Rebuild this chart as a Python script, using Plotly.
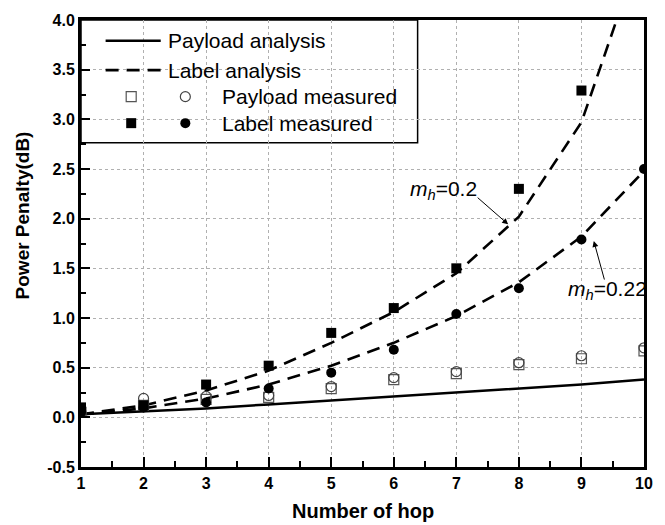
import plotly.graph_objects as go

# ---------------- data ----------------
hops = [1, 2, 3, 4, 5, 6, 7, 8, 9, 10]

payload_analysis = [0.03, 0.06, 0.09, 0.13, 0.17, 0.21, 0.25, 0.29, 0.33, 0.38]
label_analysis_020 = [0.03, 0.12, 0.27, 0.47, 0.75, 1.06, 1.45, 2.02, 2.97, 4.8]
label_analysis_022 = [0.03, 0.09, 0.19, 0.33, 0.52, 0.75, 1.02, 1.36, 1.82, 2.48]

payload_meas_sq = [0.05, 0.12, 0.18, 0.20, 0.29, 0.38, 0.44, 0.53, 0.59, 0.67]
payload_meas_ci = [0.05, 0.19, 0.21, 0.22, 0.31, 0.40, 0.46, 0.55, 0.62, 0.70]
label_meas_sq = [0.10, 0.12, 0.33, 0.52, 0.85, 1.10, 1.50, 2.30, 3.29, None]
label_meas_ci = [0.05, 0.10, 0.15, 0.29, 0.45, 0.68, 1.04, 1.30, 1.79, 2.50]

x_ticks = [1, 2, 3, 4, 5, 6, 7, 8, 9, 10]
y_ticks = [-0.5, 0.0, 0.5, 1.0, 1.5, 2.0, 2.5, 3.0, 3.5, 4.0]

# ---------------- geometry helpers (pixel -> axis units) ----------------
W, H = 665, 525
PL, PR, PT, PB = 81, 653, 12, 467
XMIN, XMAX, YMIN, YMAX = 1, 10, -0.5, 4.0


def dx(px):
    return XMIN + (px - PL) * (XMAX - XMIN) / (PR - PL)


def dy(py):
    return YMAX - (py - PT) * (YMAX - YMIN) / (PB - PT)


FONT = "Liberation Sans, Arial, Helvetica, sans-serif"
DASH = "13px,8px"

fig = go.Figure()

fig.add_trace(go.Scatter(x=hops, y=payload_analysis, mode="lines",
                         line=dict(color="black", width=2.5), showlegend=False))
fig.add_trace(go.Scatter(x=hops, y=label_analysis_020, mode="lines",
                         line=dict(color="black", width=2.6, dash=DASH), showlegend=False))
fig.add_trace(go.Scatter(x=hops, y=label_analysis_022, mode="lines",
                         line=dict(color="black", width=2.6, dash=DASH), showlegend=False))

fig.add_trace(go.Scatter(x=hops, y=payload_meas_sq, mode="markers",
                         marker=dict(symbol="square-open", size=10, color="#555", line=dict(width=1.2)),
                         showlegend=False))
fig.add_trace(go.Scatter(x=hops, y=payload_meas_ci, mode="markers",
                         marker=dict(symbol="circle-open", size=10, color="#444", line=dict(width=1.2)),
                         showlegend=False))
fig.add_trace(go.Scatter(x=hops, y=label_meas_sq, mode="markers",
                         marker=dict(symbol="square", size=10, color="black"), showlegend=False))
fig.add_trace(go.Scatter(x=hops, y=label_meas_ci, mode="markers",
                         marker=dict(symbol="circle", size=10, color="black"), showlegend=False))

# ---------------- hand-drawn legend (two symbols per row) ----------------
rows_py = [33, 63, 90, 117]
shapes = [
    dict(type="rect", xref="paper", yref="y", x0=0, x1=(423 - PL) / (PR - PL),
         y0=dy(137), y1=YMAX, fillcolor="white", line=dict(color="black", width=1.5), layer="between"),
    dict(type="line", xref="x", yref="y", x0=dx(106), x1=dx(162), y0=dy(rows_py[0]), y1=dy(rows_py[0]),
         line=dict(color="black", width=2.5), layer="above"),
    dict(type="line", xref="x", yref="y", x0=dx(106), x1=dx(162), y0=dy(rows_py[1]), y1=dy(rows_py[1]),
         line=dict(color="black", width=2.6, dash=DASH), layer="above"),
]
fig.add_trace(go.Scatter(x=[dx(132)], y=[dy(rows_py[2])], mode="markers", cliponaxis=False,
                         marker=dict(symbol="square-open", size=10, color="#555", line=dict(width=1.2)),
                         showlegend=False, hoverinfo="skip"))
fig.add_trace(go.Scatter(x=[dx(187)], y=[dy(rows_py[2])], mode="markers", cliponaxis=False,
                         marker=dict(symbol="circle-open", size=10, color="#444", line=dict(width=1.2)),
                         showlegend=False, hoverinfo="skip"))
fig.add_trace(go.Scatter(x=[dx(132)], y=[dy(rows_py[3])], mode="markers", cliponaxis=False,
                         marker=dict(symbol="square", size=10, color="black"),
                         showlegend=False, hoverinfo="skip"))
fig.add_trace(go.Scatter(x=[dx(187)], y=[dy(rows_py[3])], mode="markers", cliponaxis=False,
                         marker=dict(symbol="circle", size=10, color="black"),
                         showlegend=False, hoverinfo="skip"))

legend_texts = [("Payload analysis", 167), ("Label analysis", 167),
                ("Payload measured", 222), ("Label measured", 222)]
annotations = []
for (txt, px), py in zip(legend_texts, rows_py):
    annotations.append(dict(x=dx(px), y=dy(py), xref="x", yref="y", text=txt, showarrow=False,
                            xanchor="left", yanchor="middle",
                            font=dict(family=FONT, size=21, color="black")))

# ---------------- curve labels with arrows ----------------
annotations.append(dict(x=dx(449), y=dy(185), xref="x", yref="y",
                        text="<i>m</i><sub><i>h</i></sub>=0.2", showarrow=False,
                        font=dict(family=FONT, size=21, color="black")))
annotations.append(dict(x=dx(515), y=dy(220), xref="x", yref="y", text="", showarrow=True,
                        ax=483 - 515, ay=192 - 220, arrowhead=2, arrowsize=1.2, arrowwidth=1,
                        arrowcolor="black"))
annotations.append(dict(x=dx(616), y=dy(287), xref="x", yref="y",
                        text="<i>m</i><sub><i>h</i></sub>=0.22", showarrow=False,
                        font=dict(family=FONT, size=21, color="black")))
annotations.append(dict(x=dx(602), y=dy(237), xref="x", yref="y", text="", showarrow=True,
                        ax=613 - 602, ay=277 - 237, arrowhead=2, arrowsize=1.2, arrowwidth=1,
                        arrowcolor="black"))

# ---------------- axis titles ----------------
annotations.append(dict(x=(22 - PL) / (PR - PL), y=dy(211), xref="paper", yref="y",
                        text="Power Penalty(dB)", showarrow=False, textangle=-90,
                        xanchor="center", yanchor="middle",
                        font=dict(family=FONT, size=19, color="black", weight="bold")))
annotations.append(dict(x=0.5, y=(PB - 512) / (PB - PT), xref="paper", yref="paper",
                        text="Number of hop", showarrow=False, xanchor="center", yanchor="middle",
                        font=dict(family=FONT, size=20, color="black", weight="bold")))

tickfont = dict(family=FONT, size=16, color="black", weight="bold")
fig.update_layout(
    width=W, height=H,
    margin=dict(l=PL, r=W - PR, t=PT, b=H - PB),
    paper_bgcolor="white", plot_bgcolor="white",
    showlegend=False,
    shapes=shapes, annotations=annotations,
    xaxis=dict(range=[XMIN, XMAX], tickvals=x_ticks, ticktext=[str(v) for v in x_ticks],
               ticks="inside", ticklen=10, tickwidth=2, tickcolor="black",
               minor=dict(dtick=0.5, ticks="inside", ticklen=6, tickwidth=2, tickcolor="black", showgrid=False),
               showline=True, linewidth=3, linecolor="black", mirror=True,
               showgrid=True, gridcolor="#b0b0b0", griddash="dot", gridwidth=1,
               zeroline=False, tickfont=tickfont),
    yaxis=dict(range=[YMIN, YMAX], tickvals=y_ticks, ticktext=[f"{v:.1f}" for v in y_ticks],
               ticks="inside", ticklen=9, tickwidth=2, tickcolor="black",
               minor=dict(dtick=0.25, ticks="inside", ticklen=5, tickwidth=2, tickcolor="black", showgrid=False),
               showline=True, linewidth=3, linecolor="black", mirror=True,
               showgrid=True, gridcolor="#b0b0b0", griddash="dot", gridwidth=1,
               zeroline=False, tickfont=tickfont),
)

fig.write_html("out.html")
